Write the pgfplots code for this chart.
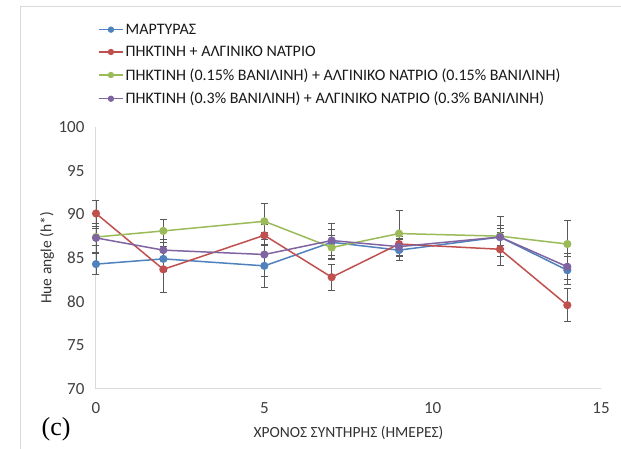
\documentclass[border=0pt]{standalone}
\usepackage{pgfplots}
\usepackage{pgfplotstable}
\usepackage{fontspec}
\pgfplotsset{compat=1.18}
\setmainfont{Carlito}
\newfontfamily\serifc{Liberation Serif}

\definecolor{sBlue}{HTML}{4F81BD}
\definecolor{sRed}{HTML}{C0504D}
\definecolor{sGreen}{HTML}{9BBB59}
\definecolor{sPurple}{HTML}{8064A2}
\definecolor{frameGray}{HTML}{D9D9D9}
\definecolor{errGray}{HTML}{595959}

% day, hue angle, standard deviation
\pgfplotstableread{
x y e
0 84.3 1.2
2 84.9 1.4
5 84.1 2.5
7 86.8 1.5
9 85.9 1.2
12 87.4 1.3
14 83.6 1.6
}\control
\pgfplotstableread{
x y e
0 90.1 1.5
2 83.7 2.6
5 87.6 1.2
7 82.8 1.5
9 86.6 0.9
12 86.0 1.9
14 79.6 1.9
}\pectinalg
\pgfplotstableread{
x y e
0 87.4 1.0
2 88.1 1.3
5 89.2 2.1
7 86.2 1.4
9 87.8 2.6
12 87.5 2.3
14 86.6 2.7
}\vanlow
\pgfplotstableread{
x y e
0 87.3 1.7
2 85.9 1.2
5 85.4 2.5
7 87.0 2.0
9 86.3 1.0
12 87.4 1.0
14 84.0 1.5
}\vanhigh

\begin{document}
\begin{tikzpicture}
\path[use as bounding box] (-96pt,-60pt) rectangle (525pt,389pt);
\draw[frameGray, line width=0.8pt] (-76pt,-60pt) -- (-76pt,383pt) -- (525pt,383pt);
\begin{axis}[
  scale only axis,
  width=505pt, height=262pt,
  xmin=0, xmax=15, ymin=70, ymax=100,
  xtick={0,5,10,15}, ytick={70,75,...,100},
  axis x line*=bottom, axis y line*=left,
  axis line style={frameGray, line width=1pt, -},
  major tick length=0pt,
  tick label style={font=\fontsize{17}{19}\selectfont, text=black!75},
  /pgf/number format/assume math mode=true,
  xticklabel style={anchor=center, yshift=-19pt},
  yticklabel style={anchor=east, xshift=-8pt},
  xlabel={ΧΡΟΝΟΣ ΣΥΝΤΗΡΗΣ (ΗΜΕΡΕΣ)},
  ylabel={Hue angle (h*)},
  label style={font=\fontsize{15.5}{18}\selectfont, text=black!80},
  xlabel style={at={(axis description cs:0.5,0)}, anchor=center, yshift=-44pt},
  ylabel style={at={(axis description cs:-0.097,0.5)}, anchor=center},
  clip=false,
  every axis plot/.append style={line width=1.5pt, mark=*, mark size=3.3pt},
  error bars/y dir=both, error bars/y explicit,
  error bars/error bar style={errGray, line width=0.8pt},
  error bars/error mark options={errGray, rotate=90, mark size=3.5pt, line width=0.8pt},
  legend style={at={(axis description cs:-0.002,1.41)}, anchor=north west,
    draw=none, fill=none, font=\fontsize{16}{18}\selectfont, text=black!90,
    row sep=6.5pt, nodes={inner xsep=2pt}},
  legend cell align=left,
  legend image code/.code={\draw[mark repeat=2, mark phase=2, line width=1.5pt, mark size=2.4pt]
    plot coordinates {(0pt,0pt) (12pt,0pt) (24pt,0pt)};},
]
\addplot[sBlue, mark options={fill=sBlue}] table[x=x, y=y, y error=e] {\control};
\addlegendentry{ΜΑΡΤΥΡΑΣ}
\addplot[sRed, mark options={fill=sRed}] table[x=x, y=y, y error=e] {\pectinalg};
\addlegendentry{ΠΗΚΤΙΝΗ + ΑΛΓΙΝΙΚΟ ΝΑΤΡΙΟ}
\addplot[sGreen, mark options={fill=sGreen}] table[x=x, y=y, y error=e] {\vanlow};
\addlegendentry{ΠΗΚΤΙΝΗ (0.15\% ΒΑΝΙΛΙΝΗ) + ΑΛΓΙΝΙΚΟ ΝΑΤΡΙΟ (0.15\% ΒΑΝΙΛΙΝΗ)}
\addplot[sPurple, mark options={fill=sPurple}] table[x=x, y=y, y error=e] {\vanhigh};
\addlegendentry{ΠΗΚΤΙΝΗ (0.3\% ΒΑΝΙΛΙΝΗ) + ΑΛΓΙΝΙΚΟ ΝΑΤΡΙΟ (0.3\% ΒΑΝΙΛΙΝΗ)}
\node[font=\serifc\fontsize{26}{28}\selectfont, anchor=center] at (axis description cs:-0.079,-0.153) {(c)};
\end{axis}
\end{tikzpicture}
\end{document}
